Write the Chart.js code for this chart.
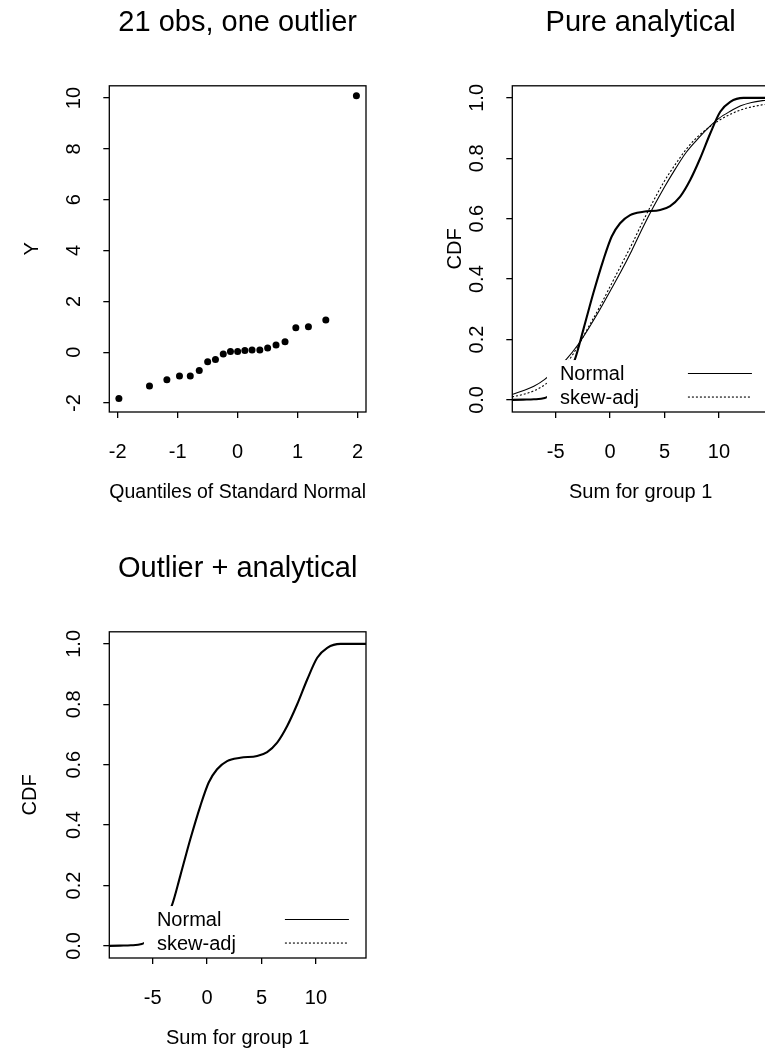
<!DOCTYPE html>
<html>
<head>
<meta charset="utf-8">
<script src="https://cdn.jsdelivr.net/npm/chart.js@4.4.0/dist/chart.umd.min.js"></script>
<style>
  html, body { margin: 0; padding: 0; background: #fff; overflow: hidden; width: 765px; height: 1052px; }
  canvas { position: absolute; }
</style>
</head>
<body>
<canvas id="qq" width="403" height="546" style="left:0;top:0"></canvas>
<canvas id="pure" width="403" height="546" style="left:403px;top:0"></canvas>
<canvas id="outl" width="403" height="546" style="left:0;top:546px"></canvas>
<script>
const FONT = '"Liberation Sans", Arial, Helvetica, sans-serif';
Chart.defaults.font.family = FONT;
Chart.defaults.color = '#000';
Chart.defaults.animation = false;

// panel 1: normal QQ plot, 21 observations
const qqTheoretical = [-1.98, -1.47, -1.18, -0.97, -0.79, -0.64, -0.50, -0.37, -0.24, -0.12, 0,
                       0.12, 0.24, 0.37, 0.50, 0.64, 0.79, 0.97, 1.18, 1.47, 1.98];
const qqObserved = [-1.82, -1.33, -1.08, -0.93, -0.93, -0.72, -0.37, -0.29, -0.07, 0.03, 0.03,
                    0.07, 0.09, 0.09, 0.17, 0.29, 0.41, 0.96, 1.00, 1.27, 10.09];
const qqXTicks = [-2, -1, 0, 1, 2];
const qqYTicks = [-2, 0, 2, 4, 6, 8, 10];

// panels 2 and 3: CDF of the sum for group 1
const cdfXTicks = [-5, 0, 5, 10];
const cdfYTicks = [0, 0.2, 0.4, 0.6, 0.8, 1.0];

const approxX   = [-9, -8, -7, -6, -5, -4, -3, -2, -1, 0, 1, 2, 3, 4, 5, 6, 7, 8, 9, 10, 11, 12, 13, 14, 14.6];
const normalCdf = [0.018, 0.03, 0.045, 0.068, 0.10, 0.135, 0.18, 0.235, 0.295, 0.36, 0.425, 0.495, 0.57,
                   0.64, 0.705, 0.765, 0.82, 0.862, 0.90, 0.932, 0.955, 0.974, 0.985, 0.991, 0.993];
const skewCdf   = [0.01, 0.018, 0.03, 0.05, 0.08, 0.12, 0.175, 0.24, 0.305, 0.375, 0.445, 0.515, 0.59,
                   0.66, 0.725, 0.78, 0.83, 0.87, 0.90, 0.925, 0.945, 0.96, 0.97, 0.977, 0.98];

const outlierX   = [-9, -8, -7, -6, -5.8, -5, -4, -3.22, -2.46, -1.54, -0.62, 0.15, 0.92, 1.84, 3.06,
                    4.6, 5.52, 6.44, 7.36, 8.28, 9.2, 10.12, 11.04, 12.26, 13.5, 14.6];
const outlierCdf = [0, 0.001, 0.002, 0.006, 0.009, 0.03, 0.075, 0.135, 0.232, 0.353, 0.463, 0.541, 0.585,
                    0.612, 0.623, 0.629, 0.642, 0.673, 0.728, 0.80, 0.882, 0.954, 0.987, 1.0, 1.0, 1.0];

const legendLabels = ['Normal', 'skew-adj'];
const legendDashes = [[], [2, 2]];
const legendAt = [-5.8, 0.132];

const pts = (xs, ys) => xs.map((x, i) => ({ x: x, y: ys[i] }));

// box round the plot region, like R's box()
const frame = {
  id: 'frame',
  afterDraw(chart) {
    const { ctx, chartArea: a } = chart;
    ctx.save();
    ctx.strokeStyle = '#000';
    ctx.lineWidth = 1.3;
    ctx.strokeRect(a.left, a.top, a.right - a.left, a.bottom - a.top);
    ctx.restore();
  }
};

// R-style legend: white box, text first, line sample to the right
const cdfLegend = {
  id: 'cdfLegend',
  afterDatasetsDraw(chart, args, opts) {
    const { ctx, chartArea: a, scales: { x, y } } = chart;
    const left = x.getPixelForValue(opts.at[0]);
    const top = y.getPixelForValue(opts.at[1]);
    ctx.save();
    ctx.beginPath();
    ctx.rect(a.left, a.top, a.right - a.left, a.bottom - a.top);
    ctx.clip();
    ctx.fillStyle = '#fff';
    ctx.fillRect(left, top, 222, a.bottom - top + 2);
    ctx.fillStyle = '#000';
    ctx.strokeStyle = '#000';
    ctx.font = '20px ' + FONT;
    ctx.textBaseline = 'middle';
    opts.labels.forEach((lab, i) => {
      const ty = top + 13.5 + i * 23.5;
      ctx.fillText(lab, left + 13, ty + 1);
      ctx.setLineDash(opts.dashes[i]);
      ctx.lineWidth = 1.1;
      ctx.beginPath();
      ctx.moveTo(left + 141, ty);
      ctx.lineTo(left + 205, ty);
      ctx.stroke();
    });
    ctx.restore();
  }
};

function axes(o) {
  const tickGrid = { display: true, drawOnChartArea: false, drawTicks: true, tickLength: 6, color: '#000', lineWidth: 1.3 };
  return {
    x: {
      type: 'linear', min: o.xMin, max: o.xMax,
      afterBuildTicks: s => { s.ticks = o.xTicks.map(v => ({ value: v })); },
      afterFit: s => { s.height = 134; },
      grid: tickGrid,
      border: { display: false },
      ticks: { font: { size: 20 }, color: '#000', padding: 22, autoSkip: false, maxRotation: 0, callback: v => String(v) },
      title: { display: true, text: o.xTitle, font: { size: 20 }, color: '#000', padding: { top: 0, bottom: 42 } }
    },
    y: {
      type: 'linear', min: o.yMin, max: o.yMax,
      afterBuildTicks: s => { s.ticks = o.yTicks.map(v => ({ value: v })); },
      afterFit: s => { s.width = 109.3; },
      grid: tickGrid,
      border: { display: false },
      ticks: { font: { size: 20 }, color: '#000', padding: o.yPad, autoSkip: false, minRotation: 90, maxRotation: 90,
               crossAlign: 'center', callback: o.yFmt },
      title: { display: true, text: o.yTitle, font: { size: 20 }, color: '#000', padding: { top: o.yTitlePad, bottom: 0 } }
    }
  };
}

function titleOpts(text) {
  return { display: true, text: text, fullSize: false, font: { size: 29, weight: 'normal' }, color: '#000',
           padding: { top: 6, bottom: 45 } };
}

new Chart(document.getElementById('qq'), {
  type: 'scatter',
  data: {
    datasets: [{
      data: pts(qqTheoretical, qqObserved),
      pointRadius: 3.5, pointBackgroundColor: '#000', pointBorderWidth: 0
    }]
  },
  options: {
    responsive: false,
    layout: { padding: { left: 0, right: 37, top: 0, bottom: 0 } },
    scales: axes({ xMin: -2.14, xMax: 2.14, yMin: -2.35, yMax: 10.48, xTicks: qqXTicks, yTicks: qqYTicks,
                   xTitle: 'Quantiles of Standard Normal', yTitle: 'Y', yPad: 18, yTitlePad: 20, yFmt: v => String(v) }),
    plugins: { legend: { display: false }, tooltip: { enabled: false }, title: titleOpts('21 obs, one outlier') }
  },
  plugins: [frame]
});

const cdfLine = { showLine: true, pointRadius: 0, borderColor: '#000', fill: false, cubicInterpolationMode: 'monotone' };

new Chart(document.getElementById('pure'), {
  type: 'scatter',
  data: {
    datasets: [
      Object.assign({ label: 'Outlier', data: pts(outlierX, outlierCdf), borderWidth: 2.1 }, cdfLine),
      Object.assign({ label: legendLabels[0], data: pts(approxX, normalCdf), borderWidth: 1.1 }, cdfLine),
      Object.assign({ label: legendLabels[1], data: pts(approxX, skewCdf), borderWidth: 1.1, borderDash: legendDashes[1] }, cdfLine)
    ]
  },
  options: {
    responsive: false,
    layout: { padding: { left: 0, right: 37, top: 0, bottom: 0 } },
    scales: axes({ xMin: -8.98, xMax: 14.6, yMin: -0.04, yMax: 1.04, xTicks: cdfXTicks, yTicks: cdfYTicks,
                   xTitle: 'Sum for group 1', yTitle: 'CDF', yPad: 15.4, yTitlePad: 40, yFmt: v => v.toFixed(1) }),
    plugins: { legend: { display: false }, tooltip: { enabled: false }, title: titleOpts('Pure analytical'),
               cdfLegend: { at: legendAt, labels: legendLabels, dashes: legendDashes } }
  },
  plugins: [cdfLegend, frame]
});

new Chart(document.getElementById('outl'), {
  type: 'scatter',
  data: {
    datasets: [
      Object.assign({ label: legendLabels[0], data: pts(outlierX, outlierCdf), borderWidth: 2.1 }, cdfLine)
    ]
  },
  options: {
    responsive: false,
    layout: { padding: { left: 0, right: 37, top: 0, bottom: 0 } },
    scales: axes({ xMin: -8.98, xMax: 14.6, yMin: -0.04, yMax: 1.04, xTicks: cdfXTicks, yTicks: cdfYTicks,
                   xTitle: 'Sum for group 1', yTitle: 'CDF', yPad: 15.4, yTitlePad: 18, yFmt: v => v.toFixed(1) }),
    plugins: { legend: { display: false }, tooltip: { enabled: false }, title: titleOpts('Outlier + analytical'),
               cdfLegend: { at: legendAt, labels: legendLabels, dashes: legendDashes } }
  },
  plugins: [cdfLegend, frame]
});
</script>
</body>
</html>
